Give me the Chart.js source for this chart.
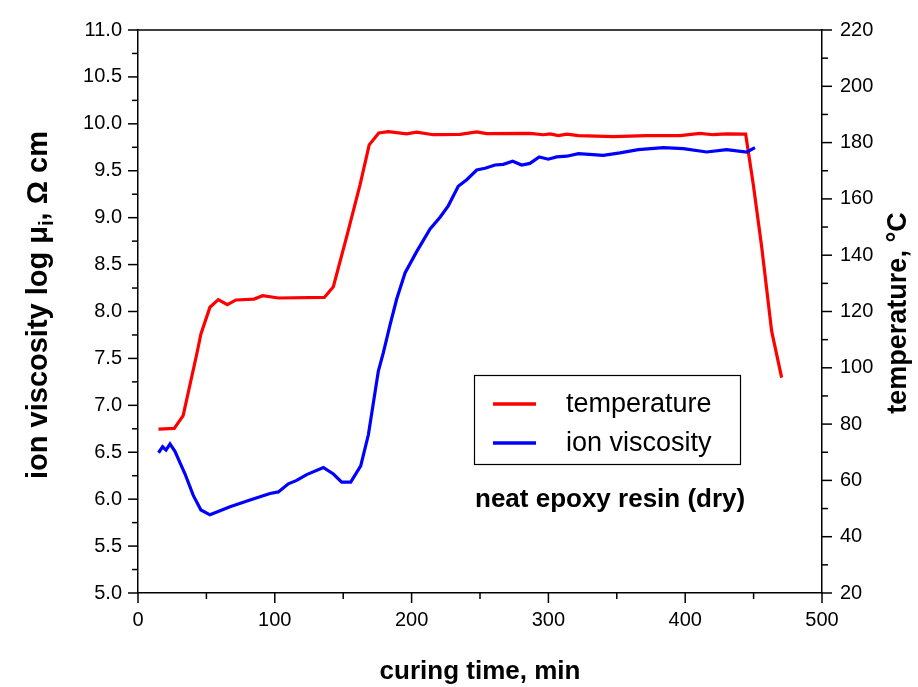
<!DOCTYPE html>
<html>
<head>
<meta charset="utf-8">
<style>
  html, body { margin: 0; padding: 0; background: #fff; }
  canvas { display: block; }
</style>
<script src="https://cdn.jsdelivr.net/npm/chart.js@4"></script>
</head>
<body>
<canvas id="cureChart" width="918" height="687"></canvas>
<script>
// temperature curve, right axis (°C)
const tempTime = [15, 26.5, 33, 43, 46, 52.6, 58.7, 65.3, 71.6, 84.8, 91.1, 102.6, 136.2, 142.8, 152.5, 162.3, 169, 176, 183, 196.4, 203.7, 215.9, 235.4, 247.6, 254.9, 286.5, 296.3, 301.2, 307.3, 313.4, 322, 347.5, 371.9, 396.2, 410.8, 420.5, 430.3, 444.2, 449.8, 455.9, 463.2, 470.5];
const tempVals = [78.2, 78.5, 83, 105, 112, 121.5, 124.2, 122.4, 124.1, 124.4, 125.6, 124.8, 125, 128.8, 146.5, 165, 179.2, 183.4, 183.9, 183.1, 183.7, 182.8, 182.9, 183.8, 183.2, 183.3, 182.8, 183.1, 182.5, 183, 182.5, 182.1, 182.5, 182.5, 183.3, 182.8, 183.1, 183, 165, 143, 113, 96.5];

// ion viscosity curve, left axis (log, ohm cm)
const visTime = [15, 18, 20.5, 23.4, 27, 34.4, 40.4, 46, 52.6, 67.3, 81.9, 96.5, 102.6, 109.9, 116, 123.3, 135.5, 142.8, 148.9, 155.5, 162.8, 168.4, 175.7, 179.3, 184.2, 189.1, 195.2, 203.7, 213.5, 220.8, 226.8, 234.1, 240.3, 247.6, 253.7, 261, 267, 273.9, 280.5, 286.5, 293.3, 299.9, 306, 313.4, 322, 340.1, 352.3, 365.7, 384, 398.6, 415.7, 430.3, 444.9, 451];
const visVals = [6.495, 6.558, 6.523, 6.589, 6.51, 6.268, 6.04, 5.885, 5.833, 5.92, 5.99, 6.06, 6.077, 6.164, 6.2, 6.262, 6.338, 6.268, 6.181, 6.181, 6.356, 6.686, 7.366, 7.558, 7.854, 8.133, 8.411, 8.638, 8.881, 9.004, 9.126, 9.335, 9.404, 9.508, 9.526, 9.561, 9.568, 9.602, 9.561, 9.578, 9.648, 9.623, 9.648, 9.655, 9.683, 9.665, 9.69, 9.725, 9.746, 9.735, 9.7, 9.725, 9.7, 9.746];

const xRange = [0, 500];
const visRange = [5, 11];
const tempRange = [20, 220];
const annotation = 'neat epoxy resin (dry)';

const FONT = '"Liberation Sans", Arial, Helvetica, sans-serif';
Chart.defaults.font.family = FONT;
Chart.defaults.color = '#000';

function toPoints(xs, ys) {
  return xs.map((x, i) => ({ x, y: ys[i] }));
}

function tickLine(ctx, x1, y1, x2, y2) {
  ctx.beginPath();
  ctx.moveTo(x1, y1);
  ctx.lineTo(x2, y2);
  ctx.stroke();
}

// ticks (major + minor), frame top, titles, legend and note
const decorations = {
  id: 'decorations',
  afterDraw(chart) {
    const { ctx, chartArea: area, scales } = chart;
    ctx.save();
    ctx.strokeStyle = '#000';
    ctx.lineWidth = 1.5;

    tickLine(ctx, area.left, area.top, area.right, area.top);

    for (let v = xRange[0]; v <= xRange[1]; v += 50) {
      const px = scales.x.getPixelForValue(v);
      tickLine(ctx, px, area.bottom, px, area.bottom + (v % 100 === 0 ? 10 : 6));
    }
    for (let v = visRange[0]; v <= visRange[1] + 1e-6; v += 0.25) {
      const py = scales.yVis.getPixelForValue(v);
      const major = Math.abs(v * 2 - Math.round(v * 2)) < 1e-6;
      tickLine(ctx, area.left, py, area.left - (major ? 10 : 6), py);
    }
    for (let v = tempRange[0]; v <= tempRange[1]; v += 10) {
      const py = scales.yTemp.getPixelForValue(v);
      tickLine(ctx, area.right, py, area.right + (v % 20 === 0 ? 10 : 6), py);
    }

    ctx.fillStyle = '#000';

    // x title
    ctx.font = 'bold 26px ' + FONT;
    ctx.textAlign = 'center';
    ctx.textBaseline = 'alphabetic';
    ctx.fillText('curing time, min', 480, 679);

    // left title with subscript
    const big = 'bold 29px ' + FONT;
    const small = 'bold 20px ' + FONT;
    const parts = [
      ['ion viscosity log \u03bc', big, 0],
      ['i', small, 6],
      [', \u03a9 cm', big, 0],
    ];
    let total = 0;
    parts.forEach(([t, f]) => { ctx.font = f; total += ctx.measureText(t).width; });
    ctx.save();
    ctx.translate(47, 305);
    ctx.rotate(-Math.PI / 2);
    ctx.textAlign = 'left';
    let cx = -total / 2;
    parts.forEach(([t, f, dy]) => {
      ctx.font = f;
      ctx.fillText(t, cx, dy);
      cx += ctx.measureText(t).width;
    });
    ctx.restore();

    // right title
    ctx.save();
    ctx.translate(906, 313);
    ctx.rotate(-Math.PI / 2);
    ctx.font = 'bold 27px ' + FONT;
    ctx.textAlign = 'center';
    ctx.fillText('temperature, \u00b0C', 0, 0);
    ctx.restore();

    // legend box
    ctx.lineWidth = 1.2;
    ctx.strokeRect(474.5, 375.5, 266, 89);
    const entries = [chart.data.datasets[1], chart.data.datasets[0]];
    entries.forEach((ds, i) => {
      const ly = 404 + i * 39;
      ctx.strokeStyle = ds.borderColor;
      ctx.lineWidth = 3.5;
      tickLine(ctx, 493, ly, 536, ly);
      ctx.font = '27px ' + FONT;
      ctx.textAlign = 'left';
      ctx.fillText(ds.label, 566, ly + 8);
    });

    // note
    ctx.font = 'bold 26px ' + FONT;
    ctx.fillText(annotation, 475, 507);
    ctx.restore();
  }
};

const axisBorder = { display: true, color: '#000', width: 1.5 };
const noGrid = { display: true, drawOnChartArea: false, drawTicks: false };

new Chart(document.getElementById('cureChart'), {
  type: 'line',
  data: {
    datasets: [
      {
        label: 'ion viscosity',
        data: toPoints(visTime, visVals),
        yAxisID: 'yVis',
        borderColor: '#0000ff',
        borderWidth: 3.2,
        pointRadius: 0,
        tension: 0,
        order: 0,
      },
      {
        label: 'temperature',
        data: toPoints(tempTime, tempVals),
        yAxisID: 'yTemp',
        borderColor: '#ff0000',
        borderWidth: 3.2,
        pointRadius: 0,
        tension: 0,
        order: 1,
      },
    ],
  },
  options: {
    responsive: false,
    animation: false,
    layout: { padding: { top: 19, left: 0, right: 0, bottom: 0 } },
    plugins: { legend: { display: false }, tooltip: { enabled: false } },
    scales: {
      x: {
        type: 'linear',
        min: xRange[0],
        max: xRange[1],
        border: axisBorder,
        grid: noGrid,
        afterFit: (scale) => { scale.height = 94; },
        ticks: {
          stepSize: 50,
          autoSkip: false,
          maxRotation: 0,
          padding: 15,
          font: { size: 20 },
          callback: (v) => (v % 100 === 0 ? String(v) : ''),
        },
      },
      yVis: {
        type: 'linear',
        position: 'left',
        min: visRange[0],
        max: visRange[1],
        border: axisBorder,
        grid: noGrid,
        afterFit: (scale) => { scale.width = 138; },
        ticks: {
          stepSize: 0.5,
          padding: 16,
          font: { size: 20 },
          callback: (v) => v.toFixed(1),
        },
      },
      yTemp: {
        type: 'linear',
        position: 'right',
        min: tempRange[0],
        max: tempRange[1],
        border: axisBorder,
        grid: noGrid,
        afterFit: (scale) => { scale.width = 96; },
        ticks: {
          stepSize: 20,
          padding: 18,
          font: { size: 20 },
        },
      },
    },
  },
  plugins: [decorations],
});
</script>
</body>
</html>
